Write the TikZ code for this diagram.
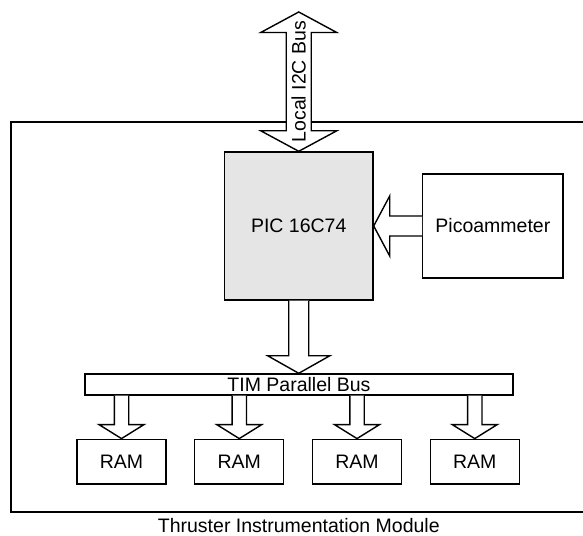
\documentclass[tikz,border=0pt]{standalone}
\usepackage{fontspec}
\setmainfont{Liberation Sans}
\usetikzlibrary{calc}

\definecolor{chipGray}{gray}{0.9}

\tikzset{
	blockBox/.style={rectangle, draw, line width=1.4pt, inner sep=0pt},
	busArrow/.style={draw, line width=1.4pt, fill=white, line join=miter},
}

% hollow bus arrow: tail, tip, shaft half width, head half width, head length
\newcommand{\busarrow}[5]{%
	\coordinate (headBase) at ($(#2)!#5!(#1)$);
	\draw[busArrow] ($(#1)!#3!-90:(#2)$) -- ($(headBase)!#3!-90:(#2)$) -- ($(headBase)!#4!-90:(#2)$) -- (#2) -- ($(headBase)!#4!90:(#2)$) -- ($(headBase)!#3!90:(#2)$) -- ($(#1)!#3!90:(#2)$);
}

\begin{document}
\begin{tikzpicture}[x=1pt, y=1pt, font=\fontsize{19.5}{22}\selectfont]
	\useasboundingbox (0,0) rectangle (583,535);

	\node[blockBox, minimum width=579pt, minimum height=390pt](timFrame) at (300.5,218){};
	\node(timCaption) at (298.8,9.7){Thruster Instrumentation Module};

	\node[blockBox, fill=chipGray, minimum width=148.5pt, minimum height=148pt](picChip) at (298.75,309){PIC 16C74};
	\node[blockBox, minimum width=140.3pt, minimum height=104pt](picoMeter) at (492.85,309){Picoammeter};

	\node[blockBox, minimum width=428pt, minimum height=21pt](timBus) at (299,150.5){TIM Parallel Bus};

	\foreach \i in {1,...,4}{
		\node[blockBox, minimum width=89pt, minimum height=44.7pt](ram\i) at ({121.5+117.75*(\i-1)},73.35){RAM};
		\coordinate (tap\i) at (timBus.south -| ram\i.north);
		\busarrow{tap\i}{ram\i.north}{7.2pt}{22.5pt}{14pt}
	}

	% I2C bus, both ways
	\coordinate (i2cTop) at (298.75,523);
	\coordinate (headUp) at ($(i2cTop)!20.5pt!(picChip.north)$);
	\coordinate (headDown) at ($(picChip.north)!20.5pt!(i2cTop)$);
	\draw[busArrow] (i2cTop) -- ([xshift=-38pt]headUp) -- ([xshift=-12.5pt]headUp) -- ([xshift=-12.5pt]headDown) -- ([xshift=-38pt]headDown) -- (picChip.north) -- ([xshift=38pt]headDown) -- ([xshift=12.5pt]headDown) -- ([xshift=12.5pt]headUp) -- ([xshift=38pt]headUp) -- cycle;
	\node[rotate=90](i2cLabel) at ($(i2cTop)!0.5!(picChip.north)$){Local I2C Bus};

	\coordinate (picoTail) at (picoMeter.west |- picChip.east);
	\busarrow{picoTail}{picChip.east}{10pt}{30pt}{16pt}

	\coordinate (busTip) at (picChip.south |- timBus.north);
	\busarrow{picChip.south}{busTip}{10pt}{31pt}{17.5pt}

\end{tikzpicture}
\end{document}
